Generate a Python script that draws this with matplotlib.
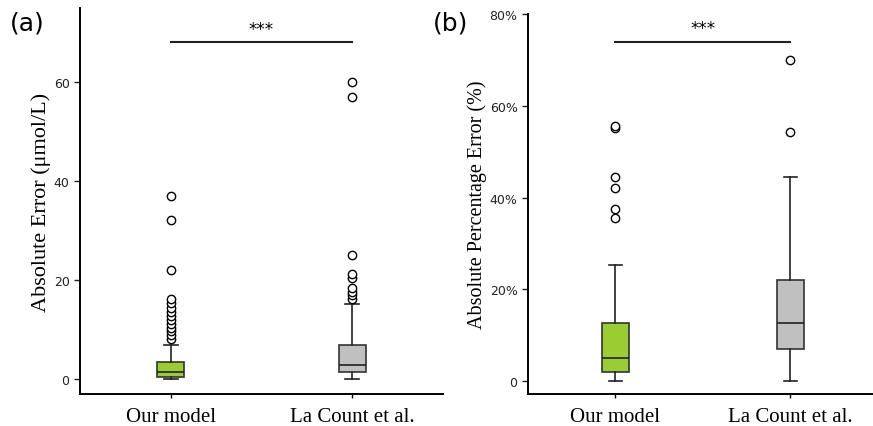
import matplotlib
matplotlib.use("Agg")
import matplotlib.pyplot as plt

groups = ["Our model", "La Count et al."]
colors = ["#9ACD32", "#C0C0C0"]

# panel (a): absolute error, umol/L
abs_med = [1.35, 2.85]
abs_q1 = [0.45, 1.5]
abs_q3 = [3.4, 7.0]
abs_lo = [0.0, 0.0]
abs_hi = [7.0, 15.1]
abs_fliers = [
    [8.1, 8.9, 9.7, 10.4, 11.2, 12.0, 12.8, 13.6, 14.4, 15.3, 16.1, 22.1, 32.1, 37.1],
    [16.1, 17.0, 17.6, 18.4, 20.4, 21.2, 25.1, 57.0, 60.0],
]

# panel (b): absolute percentage error, %
pct_med = [5.1, 12.6]
pct_q1 = [2.0, 6.9]
pct_q3 = [12.6, 22.0]
pct_lo = [0.0, 0.0]
pct_hi = [25.4, 44.4]
pct_fliers = [
    [35.5, 37.5, 42.0, 44.4, 55.1, 55.5],
    [54.3, 70.0],
]
pct_ticks = [0, 20, 40, 60, 80]
pct_labels = ["0", "20%", "40%", "60%", "80%"]

serif = "Liberation Serif"


def stats(med, q1, q3, lo, hi, fl):
    return [dict(med=med[i], q1=q1[i], q3=q3[i], whislo=lo[i], whishi=hi[i],
                 fliers=fl[i], label=groups[i]) for i in range(len(groups))]


def draw(ax, st):
    bp = ax.bxp(st, positions=[0, 1], widths=0.15, patch_artist=True,
                boxprops=dict(edgecolor="#333333", linewidth=1.2),
                medianprops=dict(color="#222222", linewidth=1.2),
                whiskerprops=dict(color="#222222", linewidth=1.2),
                capprops=dict(color="#222222", linewidth=1.2),
                flierprops=dict(marker="o", markersize=6, markerfacecolor="white",
                                markeredgecolor="black", markeredgewidth=1.0))
    for patch, c in zip(bp["boxes"], colors):
        patch.set_facecolor(c)
    for s in ["top", "right"]:
        ax.spines[s].set_visible(False)
    for s in ["left", "bottom"]:
        ax.spines[s].set_linewidth(1.4)
    ax.set_xticks([0, 1])
    ax.set_xticklabels(groups, fontfamily=serif, fontsize=15)
    ax.tick_params(axis="y", labelsize=9, length=4, width=1, colors="#222222")
    ax.tick_params(axis="x", length=3, width=1, pad=6)
    ax.set_xlim(-0.5, 1.5)


fig = plt.figure(figsize=(8.73, 4.27), dpi=100)
ax1 = fig.add_axes([0.0916, 0.0749, 0.4158, 0.904])
ax2 = fig.add_axes([0.6048, 0.0749, 0.4009, 0.89])

draw(ax1, stats(abs_med, abs_q1, abs_q3, abs_lo, abs_hi, abs_fliers))
ax1.set_ylim(-3, 75)
ax1.set_yticks([0, 20, 40, 60])
ax1.set_ylabel("Absolute Error (μmol/L)", fontfamily=serif, fontsize=16, labelpad=2)
ax1.plot([0, 1], [68.1, 68.1], color="#222222", lw=1.5)
ax1.text(0.5, 69.0, "***", ha="center", va="bottom", fontsize=12)

draw(ax2, stats(pct_med, pct_q1, pct_q3, pct_lo, pct_hi, pct_fliers))
ax2.set_ylim(-2.8, 80)
ax2.set_yticks(pct_ticks)
ax2.set_yticklabels(pct_labels)
ax2.set_ylabel("Absolute Percentage Error (%)", fontfamily=serif, fontsize=14.5, labelpad=2)
ax2.plot([0, 1], [74.0, 74.0], color="#222222", lw=1.5)
ax2.text(0.5, 74.9, "***", ha="center", va="bottom", fontsize=12)

fig.text(0.011, 0.945, "(a)", fontsize=18, va="center")
fig.text(0.496, 0.945, "(b)", fontsize=18, va="center")

fig.savefig("out.png", dpi=100)
